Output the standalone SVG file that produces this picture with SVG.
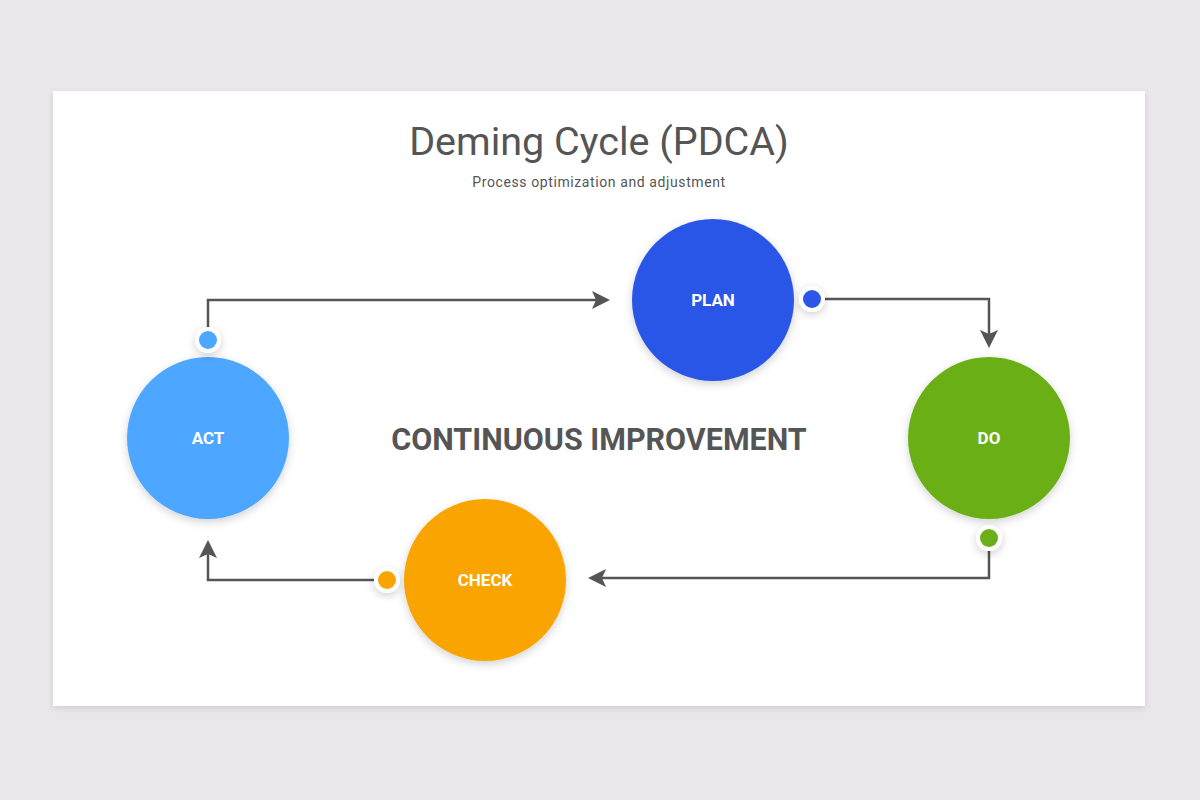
<svg xmlns="http://www.w3.org/2000/svg" width="1200" height="800" viewBox="0 0 1200 800">
<defs>
<filter id="sh" x="-30%" y="-30%" width="160%" height="160%"><feDropShadow dx="0" dy="3" stdDeviation="4" flood-color="#000" flood-opacity="0.18"/></filter>
<filter id="cs" x="-20%" y="-20%" width="140%" height="140%"><feDropShadow dx="0" dy="2" stdDeviation="3" flood-color="#000" flood-opacity="0.12"/></filter>
</defs>
<style>
.t{font-family:Roboto,"Liberation Sans",sans-serif;fill:#555;text-anchor:middle}
.lbl{font-family:Roboto,"Liberation Sans",sans-serif;fill:#fff;font-weight:bold;font-size:17px;text-anchor:middle}
.ln{fill:none;stroke:#555;stroke-width:2.5}
.ah{fill:#555}
.ring{fill:#fff;filter:url(#sh)}
</style>
<rect width="1200" height="800" fill="#e9e7e9"/>
<rect x="53" y="91" width="1092" height="615" fill="#fff" filter="url(#cs)"/>
<text class="t" x="599" y="155" font-size="39.5">Deming Cycle (PDCA)</text>
<text class="t" x="599" y="187" font-size="14" letter-spacing="0.6">Process optimization and adjustment</text>
<text class="t" x="599" y="450" font-size="30.5" font-weight="bold">CONTINUOUS IMPROVEMENT</text>
<g id="connectors">
<path class="ln" d="M208,328 V300 H602"/>
<path class="ah" d="M610,300 L592,291 L596,300 L592,309 Z"/>
<path class="ln" d="M825,299 H989 V340"/>
<path class="ah" d="M989,348 L980,330 L989,334 L998,330 Z"/>
<path class="ln" d="M989,551 V578 H596"/>
<path class="ah" d="M588,578 L606,569 L602,578 L606,587 Z"/>
<path class="ln" d="M374,580 H208 V548"/>
<path class="ah" d="M208,540 L199,558 L208,554 L217,558 Z"/>
</g>
<g id="plan">
<circle cx="713" cy="300" r="81" fill="#2b56e8" filter="url(#sh)"/>
<text class="lbl" x="713" y="306">PLAN</text>
<circle class="ring" cx="812" cy="299" r="13"/>
<circle cx="812" cy="299" r="9" fill="#2b56e8"/>
</g>
<g id="do">
<circle cx="989" cy="438" r="81" fill="#6aaf19" filter="url(#sh)"/>
<text class="lbl" x="989" y="444">DO</text>
<circle class="ring" cx="989" cy="538" r="13"/>
<circle cx="989" cy="538" r="9" fill="#6aaf19"/>
</g>
<g id="check">
<circle cx="485" cy="580" r="81" fill="#f9a400" filter="url(#sh)"/>
<text class="lbl" x="485" y="586">CHECK</text>
<circle class="ring" cx="387" cy="580" r="13"/>
<circle cx="387" cy="580" r="9" fill="#f9a400"/>
</g>
<g id="act">
<circle cx="208" cy="438" r="81" fill="#4da6ff" filter="url(#sh)"/>
<text class="lbl" x="208" y="444">ACT</text>
<circle class="ring" cx="208" cy="340" r="13"/>
<circle cx="208" cy="340" r="9" fill="#4da6ff"/>
</g>
</svg>
